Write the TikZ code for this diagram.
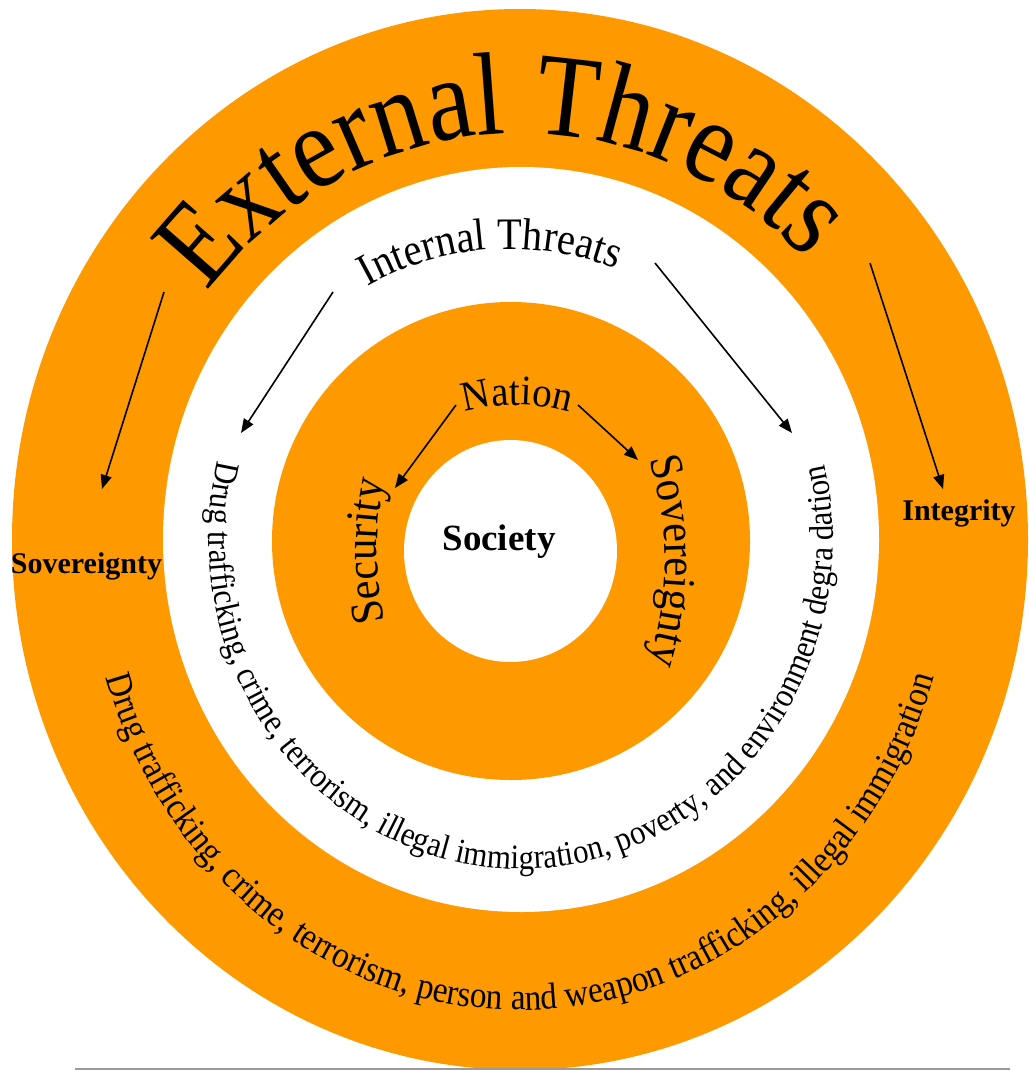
\documentclass[tikz,border=0pt]{standalone}
\usepackage{fontspec}
\setmainfont{Liberation Serif}
% condensed cuts of the same serif for the curved captions
\newfontfamily\outerfont[FakeStretch=0.875]{Liberation Serif}
\newfontfamily\midfont[FakeStretch=0.90]{Liberation Serif}
\newfontfamily\corefont[FakeStretch=0.93]{Liberation Serif}
\newfontfamily\bandfont[FakeStretch=0.90]{Liberation Serif}
\usetikzlibrary{decorations.text, arrows.meta}

\definecolor{ringorange}{HTML}{FF9900}
\definecolor{rulegray}{HTML}{9A9A9A}

\begin{document}
\begin{tikzpicture}[x=1pt, y=1pt,
  arc text/.style={decorate, decoration={text along path, text align=center, text={#1}}},
  threat/.style={-{Triangle[length=14pt, width=11pt]}, line width=1.6pt},
  boldlabel/.style={anchor=base, inner sep=0pt, font=\bfseries\fontsize{30}{30}\selectfont}
]
\useasboundingbox (0,0) rectangle (1028,-1070);

% concentric rings
\fill[ringorange] (520,-539.5) ellipse [x radius=508, y radius=530.5];
\fill[white]      (521,-539.5) ellipse [x radius=358, y radius=372.5];
\fill[ringorange] (511,-541)   ellipse [x radius=239, y radius=239];
\fill[white]      (510.5,-551) ellipse [x radius=106.5, y radius=111];

% rule under the figure
\coordinate (ruleL) at (75,-1069);
\coordinate (ruleR) at (1010,-1069);
\draw[rulegray, line width=1.2pt] (ruleL) -- (ruleR);

% captions on the upper arcs
\path[arc text={|\outerfont\fontsize{118}{118}\selectfont|External Threats}]
  (520,-539.5) ++(153:394 and 406) arc[start angle=153, end angle=33, x radius=394, y radius=406];
\path[arc text={|\midfont\fontsize{45}{45}\selectfont|Internal Threats}]
  (510,-539) ++(134:290) arc[start angle=134, end angle=54, radius=290];
\path[arc text={|\corefont\fontsize{42}{42}\selectfont|Nation}]
  (517,-595) ++(120:190) arc[start angle=120, end angle=60, radius=190];
\path[arc text={|\corefont\fontsize{46}{46}\selectfont|Security}]
  (717,-551) ++(200:340) arc[start angle=200, end angle=160, radius=340];
\path[arc text={|\corefont\fontsize{46}{46}\selectfont|Sovereignty}]
  (325,-561) ++(25:340) arc[start angle=25, end angle=-25, radius=340];

% captions on the lower arcs
\path[arc text={|\bandfont\fontsize{36.9}{36.9}\selectfont|Drug trafficking, crime, terrorism, person and weapon trafficking, illegal immigration}]
  (520,-539) ++(180:433 and 471) arc[start angle=180, end angle=360, x radius=433, y radius=471];
\path[arc text={|\bandfont\fontsize{34.3}{34.3}\selectfont|Drug trafficking, crime, terrorism, illegal immigration, poverty, and environment degra dation}]
  (521,-539) ++(159.7:312 and 330) arc[start angle=159.7, end angle=379.7, x radius=312, y radius=330];

% straight labels
\node[boldlabel, font=\bfseries\fontsize{37}{37}\selectfont] (society) at (499,-550) {Society};
\node[boldlabel] (sovlabel) at (86.5,-573) {Sovereignty};
\node[boldlabel] (intlabel) at (959,-520) {Integrity};

% arrow end points
\coordinate (extL0) at (164,-292);  \coordinate (extL1) at (102,-489);
\coordinate (extR0) at (870,-263);  \coordinate (extR1) at (943,-489);
\coordinate (intL0) at (333,-292);  \coordinate (intL1) at (241,-433);
\coordinate (intR0) at (655,-263);  \coordinate (intR1) at (792,-433);
\coordinate (natL0) at (456,-405);  \coordinate (natL1) at (395,-488);
\coordinate (natR0) at (578,-405);  \coordinate (natR1) at (638,-460);

\draw[threat] (extL0) -- (extL1);
\draw[threat] (extR0) -- (extR1);
\draw[threat] (intL0) -- (intL1);
\draw[threat] (intR0) -- (intR1);
\draw[threat] (natL0) -- (natL1);
\draw[threat] (natR0) -- (natR1);
\end{tikzpicture}
\end{document}
